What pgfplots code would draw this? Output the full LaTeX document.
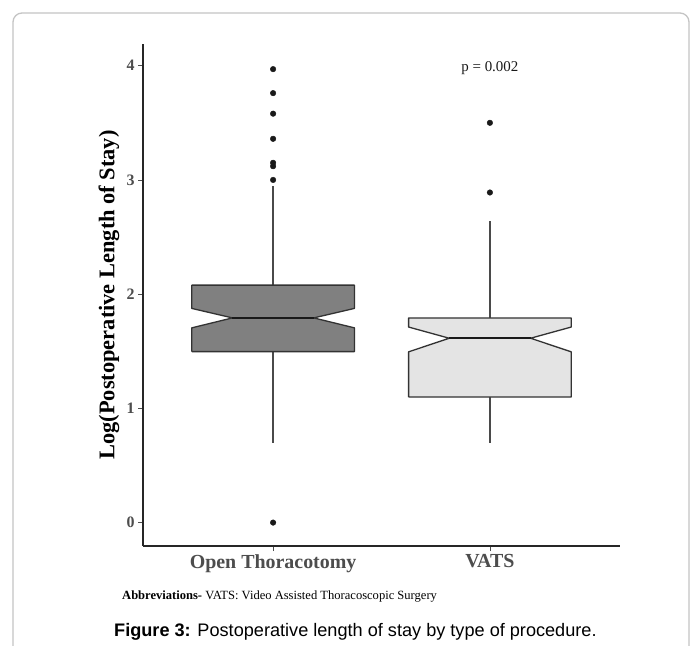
\documentclass[border=0pt]{standalone}
\usepackage{pgfplots}
\pgfplotsset{compat=1.18}
\usepackage{fontspec}
\setmainfont{Liberation Serif}
\newfontfamily\capfont{Liberation Sans}
\definecolor{boxdark}{HTML}{808080}
\definecolor{boxlight}{HTML}{E4E4E4}
\definecolor{outl}{HTML}{333333}
\definecolor{whisk}{HTML}{4A4A4A}
\definecolor{tickgray}{HTML}{4D4D4D}
\definecolor{frame}{HTML}{C4C4C4}
\begin{document}
\begin{tikzpicture}
\useasboundingbox (0,0) rectangle (697bp,-646bp);
\fill[white] (0,0) rectangle (697bp,-646bp);
\draw[frame, line width=1.3bp, rounded corners=9bp] (13bp,-13bp) rectangle (689bp,-690bp);
\begin{axis}[
  at={(143bp,-546bp)}, anchor=south west,
  scale only axis, width=477bp, height=502bp,
  xmin=0.4, xmax=2.6, ymin=-0.205, ymax=4.19,
  axis lines=left,
  axis line style={-, line width=1.5bp, color=black!85},
  xtick={1,2}, xticklabels={Open Thoracotomy, VATS},
  ytick={0,1,2,3,4},
  tick align=outside, major tick length=5bp,
  tick style={line width=0.8bp, color=tickgray},
  /pgf/number format/assume math mode=true,
  yticklabel style={font=\fontsize{16}{18}\selectfont\bfseries, text=tickgray},
  xticklabel style={font=\fontsize{20}{24}\selectfont\bfseries, text=tickgray},
  ylabel={Log(Postoperative Length of Stay)},
  ylabel style={font=\fontsize{22.5}{26}\selectfont\bfseries, at={(axis description cs:-0.0713,0.5)}, anchor=center},
  clip=false,
]
% whiskers
\addplot[whisk, line width=1.3bp] coordinates {(1,2.079) (1,2.944)};
\addplot[whisk, line width=1.3bp] coordinates {(1,1.497) (1,0.693)};
\addplot[whisk, line width=1.3bp] coordinates {(2,1.792) (2,2.639)};
\addplot[whisk, line width=1.3bp] coordinates {(2,1.099) (2,0.693)};
% notched boxes
\addplot[fill=boxdark, draw=outl, line width=1.3bp, line join=round] coordinates {
  (0.625,1.497) (1.375,1.497) (1.375,1.705) (1.1875,1.792) (1.375,1.875)
  (1.375,2.079) (0.625,2.079) (0.625,1.875) (0.8125,1.792) (0.625,1.705) (0.625,1.497)};
\addplot[fill=boxlight, draw=outl, line width=1.3bp, line join=round] coordinates {
  (1.625,1.099) (2.375,1.099) (2.375,1.495) (2.1875,1.614) (2.375,1.712)
  (2.375,1.792) (1.625,1.792) (1.625,1.712) (1.8125,1.614) (1.625,1.495) (1.625,1.099)};
% medians
\addplot[black!90, line width=2.5bp] coordinates {(0.8125,1.792) (1.1875,1.792)};
\addplot[black!90, line width=2.5bp] coordinates {(1.8125,1.614) (2.1875,1.614)};
% outliers
\addplot[only marks, mark=*, mark size=2.8bp, black!90] coordinates {
  (1,3.97) (1,3.76) (1,3.58) (1,3.36) (1,3.15) (1,3.12) (1,3.0) (1,0.0)};
\addplot[only marks, mark=*, mark size=2.8bp, black!90] coordinates {
  (2,3.50) (2,2.89)};
\node[font=\fontsize{15}{18}\selectfont, text=black!90] at (axis cs:2,3.98) {p = 0.002};
\end{axis}
\node[anchor=west, inner sep=0, text=black] at (122bp,-596bp)
  {\fontsize{12.6}{14}\selectfont\textbf{Abbreviations-} VATS: Video Assisted Thoracoscopic Surgery};
\node[anchor=west, inner sep=0] at (114bp,-632bp)
  {\capfont\fontsize{18.2}{21}\selectfont\textbf{Figure 3:} Postoperative length of stay by type of procedure.};
\end{tikzpicture}
\end{document}
